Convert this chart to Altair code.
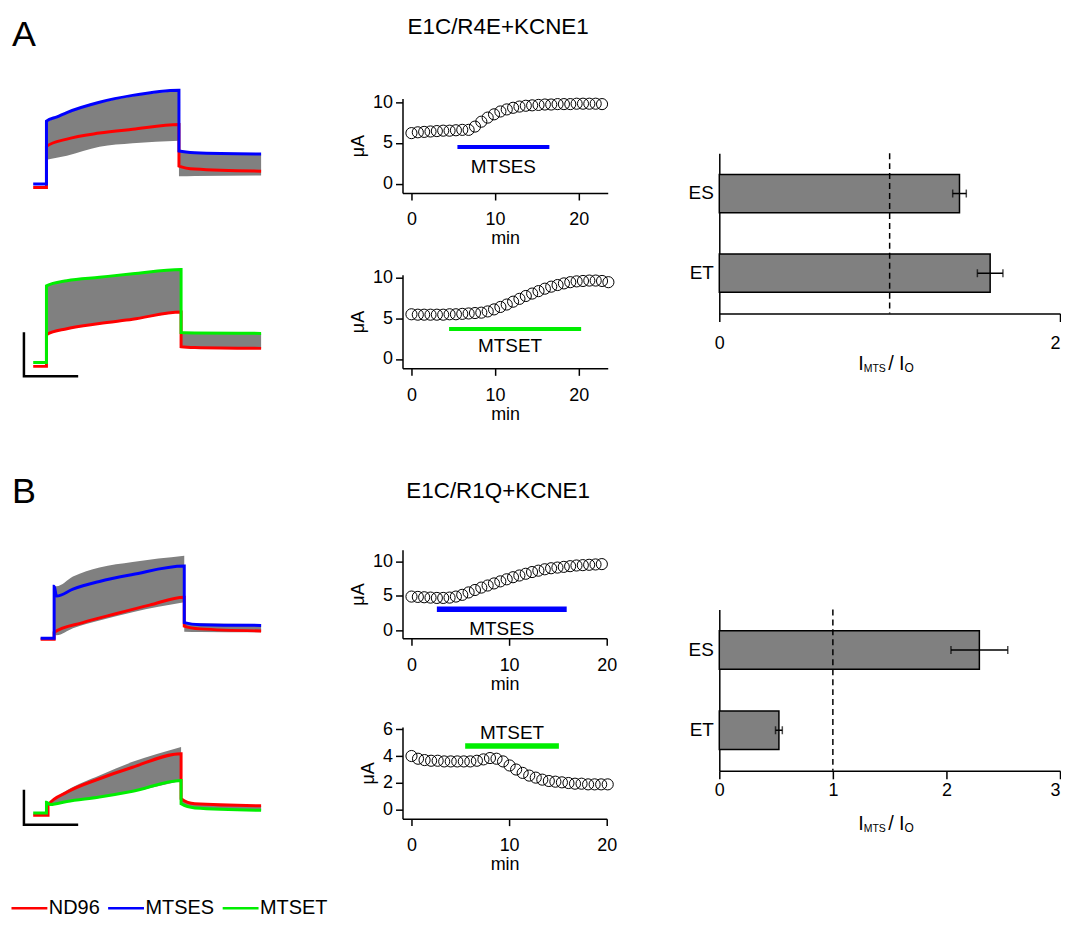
import altair as alt
import pandas as pd

FONT = "Liberation Sans"
GRAY = "#808080"

# ---------------- data ----------------
COND = ["ND96", "MTSES", "MTSET"]
COND_COLORS = ["#ff0000", "#0000ff", "#00ee00"]
PANEL_LABELS = ["A", "B"]
TITLES = ["E1C/R4E+KCNE1", "E1C/R1Q+KCNE1"]

# current traces: time (s) and current (uA)
A1_RED_T = [-0.5, 0.0, 0.0, 0.77, 2.0, 3.25, 5.0, 5.0, 5.6, 8.1]
A1_RED_Y = [-0.05, -0.05, 4.75, 5.6, 6.3, 6.75, 7.3, 2.45, 2.1, 1.85]
A1_ES_T = [-0.5, 0.0, 0.0, 0.4, 0.77, 2.0, 3.25, 5.0, 5.0, 5.6, 8.1]
A1_ES_Y = [0.35, 0.35, 7.7, 8.2, 8.7, 9.9, 10.7, 11.3, 4.2, 4.0, 3.85]
A1_GRAY_T = [0.0, 0.77, 2.0, 3.25, 5.0]
A1_GRAY_LO = [3.2, 3.65, 4.7, 5.1, 5.4]
A1_GRAY_HI = [7.6, 8.6, 9.8, 10.6, 11.2]
A1_TAIL_T = [5.0, 5.6, 8.1]
A1_TAIL_LO = [1.25, 1.3, 1.35]
A1_TAIL_HI = [4.1, 3.95, 3.8]

A2_RED_T = [-0.5, 0.0, 0.0, 0.77, 2.0, 3.25, 5.08, 5.08, 5.6, 8.1]
A2_RED_Y = [0.0, 0.0, 3.7, 4.4, 5.0, 5.5, 6.35, 2.3, 2.2, 2.1]
A2_ET_T = [-0.5, 0.0, 0.0, 0.77, 2.0, 3.25, 5.08, 5.08, 5.6, 8.1]
A2_ET_Y = [0.45, 0.45, 9.4, 10.0, 10.4, 10.8, 11.3, 3.95, 3.9, 3.85]
A2_GRAY_T = [0.0, 0.77, 2.0, 3.25, 5.08]
A2_GRAY_LO = [3.7, 4.4, 5.0, 5.5, 6.35]
A2_GRAY_HI = [9.4, 10.0, 10.4, 10.8, 11.3]
A2_TAIL_T = [5.08, 5.6, 8.1]
A2_TAIL_LO = [2.3, 2.2, 2.1]
A2_TAIL_HI = [3.95, 3.9, 3.85]
A_BAR_T = [-0.85, -0.85, 1.15]
A_BAR_Y = [3.85, -1.15, -1.15]

B1_RED_T = [-0.22, 0.29, 0.29, 1.37, 2.65, 3.89, 5.2, 5.2, 5.8, 8.1]
B1_RED_Y = [0.0, 0.0, 1.0, 2.4, 3.7, 4.9, 6.05, 1.9, 1.5, 1.2]
B1_ES_T = [-0.22, 0.29, 0.29, 0.38, 1.0, 2.0, 3.25, 5.2, 5.2, 5.8, 8.1]
B1_ES_Y = [0.15, 0.15, 7.6, 6.2, 7.2, 8.3, 9.3, 10.5, 2.4, 2.1, 2.0]
B1_GRAY_T = [0.29, 0.38, 1.0, 2.0, 3.25, 5.2]
B1_GRAY_LO = [0.8, 0.6, 1.6, 2.7, 3.9, 5.3]
B1_GRAY_HI = [7.6, 7.6, 9.0, 10.3, 11.1, 12.0]
B1_TAIL_T = [5.2, 5.8, 8.1]
B1_TAIL_LO = [1.1, 1.05, 1.0]
B1_TAIL_HI = [2.4, 2.3, 2.2]

B2_RED_T = [-0.5, 0.06, 0.06, 0.77, 2.0, 3.25, 5.08, 5.08, 5.6, 8.1]
B2_RED_Y = [-0.1, -0.1, 1.4, 3.3, 5.3, 7.0, 9.0, 2.35, 1.6, 1.3]
B2_ET_T = [-0.5, 0.0, 0.0, 0.15, 0.77, 2.0, 3.25, 5.08, 5.08, 5.6, 8.1]
B2_ET_Y = [0.25, 0.25, 1.85, 1.5, 1.95, 2.6, 3.45, 5.05, 1.6, 1.0, 0.65]
B2_GRAY_T = [0.06, 0.77, 2.0, 3.25, 5.08]
B2_GRAY_LO = [1.4, 1.9, 2.6, 3.4, 5.0]
B2_GRAY_HI = [1.6, 3.6, 5.8, 7.8, 10.0]
B2_TAIL_T = [5.08, 5.6, 8.1]
B2_TAIL_LO = [1.6, 0.9, 0.6]
B2_TAIL_HI = [2.4, 1.7, 1.3]
B_BAR_T = [-0.85, -0.85, 1.15]
B_BAR_Y = [3.5, -1.5, -1.5]

# time courses: minutes and current (uA)
TA1_T = [0.0, 0.76, 1.52, 2.28, 3.04, 3.8, 4.56, 5.32, 6.08, 6.84, 7.6, 8.36, 9.12, 9.88, 10.64,
         11.4, 12.16, 12.92, 13.68, 14.44, 15.2, 15.96, 16.72, 17.48, 18.24, 19.0, 19.76, 20.52,
         21.28, 22.04, 22.8]
TA1_V = [6.2, 6.3, 6.35, 6.4, 6.45, 6.5, 6.5, 6.55, 6.6, 6.6, 7.0, 7.6, 8.1, 8.5, 8.85, 9.1, 9.3,
         9.45, 9.55, 9.6, 9.65, 9.7, 9.7, 9.75, 9.75, 9.75, 9.8, 9.8, 9.8, 9.8, 9.75]
TA2_T = [0.0, 0.76, 1.52, 2.28, 3.04, 3.8, 4.56, 5.32, 6.08, 6.84, 7.6, 8.36, 9.12, 9.88, 10.64,
         11.4, 12.16, 12.92, 13.68, 14.44, 15.2, 15.96, 16.72, 17.48, 18.24, 19.0, 19.76, 20.52,
         21.28, 22.04, 22.8, 23.56]
TA2_V = [5.5, 5.45, 5.45, 5.45, 5.45, 5.45, 5.5, 5.5, 5.55, 5.6, 5.65, 5.7, 5.85, 6.1, 6.4, 6.7,
         7.05, 7.4, 7.75, 8.05, 8.35, 8.65, 8.9, 9.1, 9.3, 9.45, 9.55, 9.6, 9.65, 9.65, 9.6, 9.45]
TB1_T = [0.0, 0.65, 1.3, 1.95, 2.6, 3.25, 3.9, 4.55, 5.2, 5.85, 6.5, 7.15, 7.8, 8.45, 9.1, 9.75,
         10.4, 11.05, 11.7, 12.35, 13.0, 13.65, 14.3, 14.95, 15.6, 16.25, 16.9, 17.55, 18.2,
         18.85, 19.5]
TB1_V = [4.9, 4.85, 4.8, 4.75, 4.7, 4.7, 4.75, 4.9, 5.15, 5.5, 5.85, 6.2, 6.5, 6.8, 7.1, 7.4, 7.7,
         7.95, 8.2, 8.45, 8.65, 8.85, 9.0, 9.1, 9.2, 9.3, 9.4, 9.45, 9.5, 9.55, 9.6]
TB2_T = [0.0, 0.67, 1.34, 2.01, 2.68, 3.35, 4.02, 4.69, 5.36, 6.03, 6.7, 7.37, 8.04, 8.71, 9.38,
         10.05, 10.72, 11.39, 12.06, 12.73, 13.4, 14.07, 14.74, 15.41, 16.08, 16.75, 17.42,
         18.09, 18.76, 19.43, 20.1]
TB2_V = [4.0, 3.8, 3.7, 3.65, 3.65, 3.6, 3.6, 3.6, 3.6, 3.6, 3.65, 3.75, 3.85, 3.8, 3.6, 3.3,
         3.0, 2.75, 2.55, 2.4, 2.25, 2.15, 2.1, 2.05, 2.0, 1.95, 1.95, 1.9, 1.9, 1.9, 1.9]

# reagent application: label, start, end, level, label time, label level
TA1_APP = ["MTSES", 5.5, 16.5, 4.5, 11.0, 2.0]
TA2_APP = ["MTSET", 4.5, 20.3, 3.7, 11.8, 1.6]
TB1_APP = ["MTSES", 2.6, 15.9, 3.05, 9.25, 0.2]
TB2_APP = ["MTSET", 5.5, 15.1, 4.75, 10.3, 5.7]

# bar charts: I_MTS / I_O
BAR_CATS = ["ES", "ET"]
BAR_A = [1.41, 1.59]
ERR_A = [0.04, 0.075]
BAR_B = [2.29, 0.525]
ERR_B = [0.25, 0.03]
REF_LINE = [1.0]
XLABEL_PARTS = ["I", "MTS", "/", "I", "O"]

# ---------------- helpers ----------------
COLOR = alt.Color(
    "cond:N",
    scale=alt.Scale(domain=COND, range=COND_COLORS),
    legend=alt.Legend(
        orient="none", legendX=9.5, legendY=885, direction="horizontal", title=None,
        symbolType="M-4,0H4", symbolSize=81, symbolStrokeWidth=2.5, labelFontSize=20,
        labelOffset=9.5, columnPadding=3, padding=0, labelFont=FONT, labelColor="black",
    ),
)

TR_W = 270
TR_XDOM = [-1.376, 8.774]


def line_df(t, y, cond):
    return pd.DataFrame({"t": t, "y": y, "cond": cond, "i": list(range(len(t)))})


def band_df(pulse, tail):
    a = pd.DataFrame({"t": pulse[0], "lo": pulse[1], "hi": pulse[2], "seg": "pulse"})
    b = pd.DataFrame({"t": tail[0], "lo": tail[1], "hi": tail[2], "seg": "tail"})
    return pd.concat([a, b], ignore_index=True)


def trace_panel(red, col, bands, ydom, height, scalebar=None, label=None, label_y=0):
    xs = alt.Scale(domain=TR_XDOM, nice=False, zero=False)
    ys = alt.Scale(domain=ydom, nice=False, zero=False)
    X = alt.X("t:Q", scale=xs, axis=None)
    Y = alt.Y("y:Q", scale=ys, axis=None)
    layers = [
        alt.Chart(bands).mark_area(color=GRAY, interpolate="monotone").encode(
            x=X, y=alt.Y("lo:Q", scale=ys, axis=None), y2="hi:Q", detail="seg:N"),
        alt.Chart(red).mark_line(strokeWidth=3, interpolate="monotone").encode(
            x=X, y=Y, color=COLOR, order="i:Q"),
        alt.Chart(col).mark_line(strokeWidth=3, interpolate="monotone").encode(
            x=X, y=Y, color=COLOR, order="i:Q"),
    ]
    if scalebar is not None:
        layers.append(alt.Chart(scalebar).mark_line(color="black", strokeWidth=2.5,
                                                     strokeCap="square").encode(x=X, y=Y, order="i:Q"))
    if label is not None:
        layers.append(alt.Chart(pd.DataFrame({"s": [label]})).mark_text(
            fontSize=36, align="left", baseline="alphabetic", font=FONT, color="black").encode(
            x=alt.value(2), y=alt.value(label_y), text="s:N"))
    return alt.layer(*layers).properties(width=TR_W, height=height)


def time_panel(t, v, app, xdom, ydom, w, h, yvals, barw):
    X = alt.X("t:Q", scale=alt.Scale(domain=xdom, nice=False, zero=False),
              axis=alt.Axis(values=[0, 10, 20], title="min", tickSize=7, labelPadding=11,
                            titlePadding=1, labelFontSize=18, titleFontSize=18,
                            labelFlush=False))
    Y = alt.Y("v:Q", scale=alt.Scale(domain=ydom, nice=False, zero=False),
              axis=alt.Axis(values=yvals, title="μA", tickSize=7, labelPadding=3,
                            titlePadding=5, labelFontSize=18, titleFontSize=18))
    pts = alt.Chart(pd.DataFrame({"t": t, "v": v})).mark_point(
        shape="circle", size=125, filled=False, color="black", strokeWidth=1, opacity=1
    ).encode(x=X, y=Y)
    bdf = pd.DataFrame({"t": [app[1]], "t2": [app[2]], "v": [app[3]], "cond": [app[0]]})
    rule = alt.Chart(bdf).mark_rule(strokeWidth=barw).encode(x=X, x2="t2:Q", y=Y, color=COLOR)
    ldf = pd.DataFrame({"t": [app[4]], "v": [app[5]], "label": [app[0]]})
    txt = alt.Chart(ldf).mark_text(fontSize=19, font=FONT, color="black").encode(
        x=X, y=Y, text="label:N")
    return alt.layer(pts, rule, txt).properties(width=w, height=h)


def title_chart(text, w, h, yb, xc):
    return alt.Chart(pd.DataFrame({"s": [text]})).mark_text(
        fontSize=22.5, font=FONT, align="center", baseline="alphabetic", color="black"
    ).encode(x=alt.value(xc), y=alt.value(yb), text="s:N").properties(width=w, height=h)


def spacer(h):
    return alt.Chart(pd.DataFrame({"s": [0]})).mark_rect(opacity=0).encode(
        x=alt.value(0), x2=alt.value(1), y=alt.value(0), y2=alt.value(1)
    ).properties(width=1, height=h)


def bar_panel(vals, errs, xdom, xvals, h, lab_pad, xlab_off):
    df = pd.DataFrame({"cond": BAR_CATS, "r": vals,
                       "lo": [a - b for a, b in zip(vals, errs)],
                       "hi": [a + b for a, b in zip(vals, errs)]})
    xs = alt.Scale(domain=xdom, nice=False, zero=False)
    last = xvals[-1]
    xax = alt.Axis(values=xvals, format="d", title=None, tickSize=8, labelPadding=lab_pad,
                   labelFontSize=18, labelFlush=False,
                   labelAlign={"condition": {"test": f"datum.value == {last}", "value": "right"},
                               "value": "center"})
    ys = alt.Scale(domain=BAR_CATS, paddingInner=0.52, paddingOuter=0.266)
    yax = alt.Axis(title=None, ticks=False, labelPadding=6, labelFontSize=19)
    Y = alt.Y("cond:N", scale=ys, axis=yax)
    bars = alt.Chart(df).mark_bar(color=GRAY, stroke="black", strokeWidth=1.5).encode(
        x=alt.X("r:Q", scale=xs, axis=xax), y=Y)
    err = alt.Chart(df).mark_rule(color="black", strokeWidth=1.5).encode(
        x=alt.X("lo:Q", scale=xs, axis=xax), x2="hi:Q", y=Y)
    cap1 = alt.Chart(df).mark_tick(color="black", thickness=1.5, size=8, orient="vertical").encode(
        x=alt.X("lo:Q", scale=xs, axis=xax), y=Y)
    cap2 = alt.Chart(df).mark_tick(color="black", thickness=1.5, size=8, orient="vertical").encode(
        x=alt.X("hi:Q", scale=xs, axis=xax), y=Y)
    ref = alt.Chart(pd.DataFrame({"r": REF_LINE})).mark_rule(
        color="black", strokeWidth=1.5, strokeDash=[6, 4]).encode(x=alt.X("r:Q", scale=xs, axis=xax))
    one = pd.DataFrame({"s": [0]})
    base_y = h + xlab_off
    parts = [(XLABEL_PARTS[0], 139.5, base_y, 20), (XLABEL_PARTS[1], 145.0, base_y + 2, 10.5),
             (XLABEL_PARTS[2], 169.5, base_y, 20), (XLABEL_PARTS[3], 180.5, base_y, 20),
             (XLABEL_PARTS[4], 186.0, base_y + 2, 12)]
    labels = [alt.Chart(one).mark_text(text=s, fontSize=fs, font=FONT, align="left",
                                       baseline="alphabetic", color="black").encode(
        x=alt.value(px), y=alt.value(py)) for s, px, py, fs in parts]
    return alt.layer(bars, ref, err, cap1, cap2, *labels).properties(width=342, height=h)


# ---------------- panels ----------------
trA1 = trace_panel(line_df(A1_RED_T, A1_RED_Y, "ND96"), line_df(A1_ES_T, A1_ES_Y, "MTSES"),
                   band_df((A1_GRAY_T, A1_GRAY_LO, A1_GRAY_HI), (A1_TAIL_T, A1_TAIL_LO, A1_TAIL_HI)),
                   [-4.651, 19.884], 211, label=PANEL_LABELS[0], label_y=29)
trA2 = trace_panel(line_df(A2_RED_T, A2_RED_Y, "ND96"), line_df(A2_ET_T, A2_ET_Y, "MTSET"),
                   band_df((A2_GRAY_T, A2_GRAY_LO, A2_GRAY_HI), (A2_TAIL_T, A2_TAIL_LO, A2_TAIL_HI)),
                   [-6.279, 16.279], 194, scalebar=line_df(A_BAR_T, A_BAR_Y, "bar"))
trB1 = trace_panel(line_df(B1_RED_T, B1_RED_Y, "ND96"), line_df(B1_ES_T, B1_ES_Y, "MTSES"),
                   band_df((B1_GRAY_T, B1_GRAY_LO, B1_GRAY_HI), (B1_TAIL_T, B1_TAIL_LO, B1_TAIL_HI)),
                   [-7.143, 31.429], 270, label=PANEL_LABELS[1], label_y=83)
trB2 = trace_panel(line_df(B2_RED_T, B2_RED_Y, "ND96"), line_df(B2_ET_T, B2_ET_Y, "MTSET"),
                   band_df((B2_GRAY_T, B2_GRAY_LO, B2_GRAY_HI), (B2_TAIL_T, B2_TAIL_LO, B2_TAIL_HI)),
                   [-3.529, 18.529], 150, scalebar=line_df(B_BAR_T, B_BAR_Y, "bar"))

tA1 = time_panel(TA1_T, TA1_V, TA1_APP, [-1.07, 23.48], [-1.13, 10.45], 206, 95, [0, 5, 10], 4)
tA2 = time_panel(TA2_T, TA2_V, TA2_APP, [-1.07, 23.48], [-1.16, 10.37], 206, 94, [0, 5, 10], 4)
tB1 = time_panel(TB1_T, TB1_V, TB1_APP, [-0.92, 20.0], [-1.15, 11.69], 205, 89, [0, 5, 10], 5.5)
tB2 = time_panel(TB2_T, TB2_V, TB2_APP, [-0.92, 20.0], [-0.64, 6.15], 205, 92, [0, 2, 4, 6], 5.5)

barA = bar_panel(BAR_A, ERR_A, [0, 2], [0, 1, 2], 161, 13, 57)
barB = bar_panel(BAR_B, ERR_B, [0, 3], [0, 1, 2, 3], 162, 3, 59)

col1 = alt.vconcat(trA1, trA2, trB1, trB2, spacing=0)
col2 = alt.vconcat(
    title_chart(TITLES[0], 206, 75.5, 17.7, 96),
    alt.vconcat(tA1, tA2, spacing=21),
    title_chart(TITLES[1], 206, 127, 75, 96),
    alt.vconcat(tB1, tB2, spacing=27),
    spacing=0,
)
col3 = alt.vconcat(spacer(135.5), barA, spacer(233.5), barB, spacing=0)

chart = alt.hconcat(col1, col2, col3, spacing=70).properties(
    padding={"left": 2, "top": 6, "right": 0, "bottom": 0}
).configure(font=FONT).configure_view(stroke=None).configure_axis(
    domainColor="black", tickColor="black", labelColor="black", titleColor="black",
    domainWidth=1.5, tickWidth=1.5, grid=False, labelFont=FONT, titleFont=FONT,
    titleFontWeight="normal",
)

chart.save("out.html", embed_options={"renderer": "svg", "actions": False})
